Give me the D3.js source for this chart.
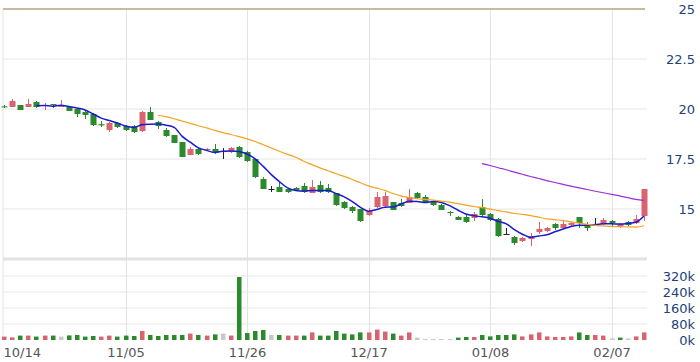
<!DOCTYPE html>
<html lang="en">
  <head>
    <meta charset="utf-8">
    <title>D3js candles</title>
    <script src="https://cdn.jsdelivr.net/npm/d3@7/dist/d3.min.js"></script>
    <style>
      body { margin: 0; background: #fff; }
      svg { display: block; font-family: 'DejaVu Sans', sans-serif; }
    </style>
  </head>

  <body>
    <div id='chart'></div>

    <script type='text/javascript'>
      // daily candles
      let open  = [20.13,20.1,20.2,20.1,20.35,20.15,20.25,20.1,20.1,20.0,
                   19.85,19.75,19.24,18.95,19.3,19.15,19.15,18.9,19.85,19.35,
                   18.95,18.7,18.35,17.7,18.0,17.95,18.0,17.9,17.85,18.1,
                   17.85,17.5,16.5,16.0,16.1,16.0,16.05,16.15,15.8,16.2,
                   16.05,15.8,15.35,15.1,15.0,14.7,15.1,15.15,15.35,15.3,
                   15.3,15.8,15.6,15.4,15.2,14.85,14.6,14.6,14.55,15.1,
                   14.75,14.5,13.75,13.6,13.4,13.5,13.85,13.9,14.25,14.05,
                   14.2,14.6,14.25,14.2,14.25,14.4,14.15,14.35,14.3,14.65];
      let high  = [20.2,20.5,20.2,20.5,20.4,20.3,20.25,20.45,20.1,20.0,
                   19.9,19.8,19.4,19.35,19.35,19.2,19.2,19.9,20.1,19.4,
                   19.05,18.7,18.35,18.1,18.05,18.05,18.25,18.05,18.1,18.15,
                   17.9,17.5,16.6,16.15,16.4,16.0,16.1,16.3,16.45,16.4,
                   16.25,15.8,15.4,15.15,15.0,15.05,15.85,15.85,15.35,15.5,
                   16.0,15.85,15.7,15.45,15.25,14.9,14.65,14.7,14.85,15.5,
                   14.8,14.55,14.05,13.65,13.6,13.8,14.35,14.1,14.3,14.4,
                   14.35,14.6,14.35,14.55,14.55,14.45,14.3,14.4,14.7,16.0];
      let low   = [20.05,20.1,19.95,20.1,20.05,19.95,20.05,20.1,19.9,19.6,
                   19.5,19.15,19.1,18.85,19.05,18.9,18.8,18.85,19.45,19.0,
                   18.6,18.3,17.6,17.7,17.7,17.9,17.75,17.5,17.8,17.55,
                   17.35,16.55,16.0,15.85,15.85,15.8,15.9,15.8,15.8,15.8,
                   15.8,15.15,15.0,14.8,14.35,14.65,15.05,15.1,14.95,15.1,
                   15.3,15.5,15.3,15.15,14.95,14.65,14.45,14.3,14.4,14.65,
                   14.4,13.6,13.75,13.2,13.35,13.15,13.75,13.85,13.95,14.0,
                   14.15,14.05,13.9,14.2,14.2,14.15,14.05,14.15,14.25,14.4];
      let close = [20.1,20.4,19.95,20.25,20.1,20.2,20.2,20.2,19.9,19.75,
                   19.7,19.2,19.18,19.3,19.1,18.95,18.85,19.85,19.45,19.15,
                   18.65,18.3,17.6,18.0,17.75,18.0,17.8,17.9,18.05,17.6,
                   17.4,16.6,16.0,16.0,15.85,15.85,15.95,15.85,16.1,15.85,
                   15.85,15.2,15.05,14.9,14.4,14.9,15.6,15.65,14.95,15.15,
                   15.6,15.55,15.35,15.2,14.95,14.8,14.45,14.35,14.75,14.7,
                   14.45,13.65,13.75,13.3,13.55,13.65,14.0,14.05,14.05,14.25,
                   14.3,14.3,14.05,14.2,14.45,14.3,14.25,14.2,14.5,16.0];

      // volume in thousands, and its colour: r = up, g = down, n = unchanged
      let volume = [17,13,22,22,17,22,22,17,23,25,
                    17,20,17,22,17,22,20,45,25,20,
                    25,25,25,32,25,22,28,32,22,315,
                    35,45,50,25,25,22,22,22,38,22,
                    22,45,32,28,38,38,52,42,32,22,
                    38,12,5,5,5,5,12,15,15,25,
                    18,25,25,28,18,28,38,18,15,15,
                    18,38,25,25,22,8,12,8,18,38];
      let volDir = ['r','r','g','r','g','r','g','n','g','g',
                    'g','g','r','r','g','g','g','r','g','g',
                    'g','g','g','r','g','r','g','n','r','g',
                    'g','g','g','n','g','r','r','g','r','g',
                    'g','g','g','g','g','r','r','r','g','r',
                    'r','n','n','n','n','n','g','g','r','g',
                    'g','g','g','g','r','r','r','r','r','r',
                    'r','g','g','r','r','n','g','n','r','r'];

      let tickIdx    = [0, 15, 30, 45, 60, 75];
      let tickLabels = ['10/14', '11/05', '11/26', '12/17', '01/08', '02/07'];
      let priceTicks = [15, 17.5, 20, 22.5, 25];
      let volTicks   = [0, 80, 160, 240, 320];

      let width = 700;
      let height = 362;
      let left = 3, right = 647;

      let up = '#d9636f', down = '#2b8a2b', flat = '#222';

      let svg = d3.select('#chart').append('svg')
        .attr('width', width)
        .attr('height', height)

      let x = d3.scaleLinear()
          .domain([0, close.length - 1])
          .range([4, 644])
      let yP = d3.scaleLinear()
          .domain([12.5, 25])
          .range([259, 9])
      let yV = d3.scaleLinear()
          .domain([0, 400])
          .range([340, 260])

      // grid
      svg.selectAll('.hgrid')
        .data(priceTicks.slice(0, -1))
        .enter().append('line')
        .attr('x1', left).attr('x2', right)
        .attr('y1', (d) => yP(d)).attr('y2', (d) => yP(d))
        .attr('stroke', '#e6e6e6')

      svg.selectAll('.vgrid')
        .data(volTicks.slice(1))
        .enter().append('line')
        .attr('x1', left).attr('x2', right)
        .attr('y1', (d) => yV(d)).attr('y2', (d) => yV(d))
        .attr('stroke', '#e6e6e6')

      svg.selectAll('.xgrid')
        .data(tickIdx)
        .enter().append('line')
        .attr('x1', (d, i) => i == 0 ? left : Math.round(x(d)) + 0.5)
        .attr('x2', (d, i) => i == 0 ? left : Math.round(x(d)) + 0.5)
        .attr('y1', yP(25)).attr('y2', yV(0))
        .attr('stroke', '#e3e3e3')

      // panel separator
      svg.append('line')
        .attr('x1', left).attr('x2', right)
        .attr('y1', yP(12.5)).attr('y2', yP(12.5))
        .attr('stroke', '#e2e2e2')
        .attr('stroke-width', 3)

      // top border at 25
      svg.append('line')
        .attr('x1', left).attr('x2', 645)
        .attr('y1', yP(25)).attr('y2', yP(25))
        .attr('stroke', '#b2a47f')
        .attr('stroke-width', 1.5)

      let colorOf = (i) => close[i] > open[i] ? up : close[i] < open[i] ? down : flat

      // candles
      let idx = d3.range(close.length)
      svg.selectAll('.wick')
        .data(idx)
        .enter().append('line')
        .attr('x1', (i) => Math.round(x(i)) + 0.5)
        .attr('x2', (i) => Math.round(x(i)) + 0.5)
        .attr('y1', (i) => yP(high[i]))
        .attr('y2', (i) => yP(low[i]))
        .attr('stroke', colorOf)

      svg.selectAll('.body')
        .data(idx)
        .enter().append('rect')
        .attr('x', (i) => Math.round(x(i)) - 2.5)
        .attr('y', (i) => yP(Math.max(open[i], close[i])))
        .attr('width', 6)
        .attr('height', (i) => Math.max(1, Math.abs(yP(open[i]) - yP(close[i]))))
        .attr('fill', colorOf)

      // moving averages of the close
      let ma = (n) => idx.filter((i) => i >= n - 1)
          .map((i) => [i, d3.mean(close.slice(i - n + 1, i + 1))])
      let line = d3.line()
          .x((d) => x(d[0]))
          .y((d) => yP(d[1]))
          .curve(d3.curveMonotoneX)

      let maStyles = [[5, '#1a1ad0', 1.5], [20, '#f5a21e', 1.2], [60, '#9b2fd6', 1.2]]
      maStyles.forEach((s) => {
        svg.append('path')
          .attr('d', line(ma(s[0])))
          .attr('fill', 'none')
          .attr('stroke', s[1])
          .attr('stroke-width', s[2])
      })

      // volume bars
      let volColor = { r: up, g: down, n: '#c8c8c8' }
      svg.selectAll('.vol')
        .data(idx)
        .enter().append('rect')
        .attr('x', (i) => Math.round(x(i)) - 2)
        .attr('y', (i) => yV(volume[i]))
        .attr('width', 4.5)
        .attr('height', (i) => yV(0) - yV(volume[i]))
        .attr('fill', (i) => volColor[volDir[i]])

      // axes
      let pAxis = svg.append('g')
        .attr('transform', 'translate(695,0)')
        .call(d3.axisRight(yP).tickValues(priceTicks).tickSize(0).tickFormat((d) => d))
      let vAxis = svg.append('g')
        .attr('transform', 'translate(695,0)')
        .call(d3.axisRight(yV).tickValues(volTicks).tickSize(0).tickFormat((d) => d + 'k'))
      let xAxis = svg.append('g')
        .attr('transform', 'translate(0,' + yV(0) + ')')
        .call(d3.axisBottom(x).tickValues(tickIdx).tickSize(0).tickPadding(8)
          .tickFormat((d, i) => tickLabels[i]))

      ;[pAxis, vAxis].forEach((g) => {
        g.select('.domain').remove()
        g.selectAll('text')
          .attr('x', 0)
          .attr('text-anchor', 'end')
          .attr('font-family', 'DejaVu Sans')
          .attr('font-size', '13px')
          .attr('fill', '#233f7a')
      })
      xAxis.select('.domain').remove()
      xAxis.selectAll('text')
        .attr('font-family', 'DejaVu Sans')
        .attr('font-size', '13px')
        .attr('fill', '#555')
      xAxis.select('.tick text')
        .attr('text-anchor', 'start')
        .attr('x', left - x(0))
    </script>
  </body>
</html>
